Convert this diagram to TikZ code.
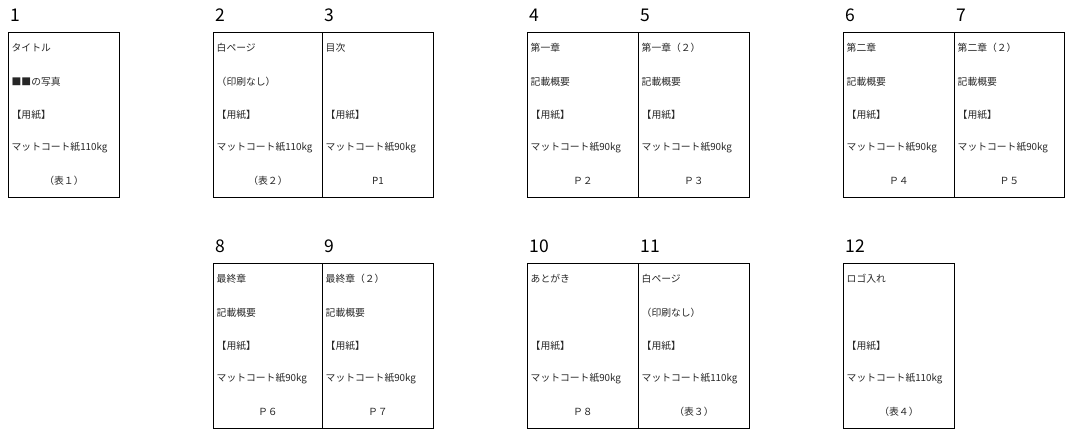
\documentclass[tikz,border=0pt]{standalone}
\usepackage{fontspec}
\setmainfont{Noto Sans CJK JP}
\begin{document}
\begin{tikzpicture}[x=1pt,y=-1pt,
  pagebox/.style={draw=black,line width=0.9pt,minimum height=165pt,inner sep=0pt,anchor=north west},
  txt/.style={inner sep=0pt,font=\fontsize{9.8}{11}\selectfont,text=black!85,anchor=west},
  ctxt/.style={inner sep=0pt,font=\fontsize{9.8}{11}\selectfont,text=black!85,anchor=center},
  num/.style={inner sep=0pt,font=\fontsize{17.5}{20}\selectfont,text=black,anchor=west}]
\useasboundingbox (0,0) rectangle (1080,444);
\newcommand\pagedraw[9]{%
  \node[pagebox,minimum width=#3pt] (p#1) at (#2,#4) {};
  \node[num] (n#1) at ([xshift=2.5pt,yshift=16.5pt]p#1.north west) {#1};
  \if\relax\detokenize{#5}\relax\else\node[txt] (p#1a) at ([xshift=3.5pt,yshift=-16pt]p#1.north west) {#5};\fi
  \if\relax\detokenize{#6}\relax\else\node[txt] (p#1b) at ([xshift=3.5pt,yshift=-49.5pt]p#1.north west) {#6};\fi
  \if\relax\detokenize{#7}\relax\else\node[txt] (p#1c) at ([xshift=3.5pt,yshift=-83pt]p#1.north west) {#7};\fi
  \if\relax\detokenize{#8}\relax\else\node[txt] (p#1d) at ([xshift=3.5pt,yshift=-116pt]p#1.north west) {#8};\fi
  \if\relax\detokenize{#9}\relax\else\node[ctxt] (p#1e) at ([yshift=-149pt]p#1.north) {#9};\fi
}
\pagedraw{1}{8}{111}{32}{タイトル}{■■の写真}{【用紙】}{マットコート紙110kg}{（表１）}
\pagedraw{2}{213}{109}{32}{白ページ}{（印刷なし）}{【用紙】}{マットコート紙110kg}{（表２）}
\pagedraw{3}{322}{111}{32}{目次}{}{【用紙】}{マットコート紙90kg}{P1}
\pagedraw{4}{527}{111}{32}{第一章}{記載概要}{【用紙】}{マットコート紙90kg}{Ｐ２}
\pagedraw{5}{638}{111}{32}{第一章（２）}{記載概要}{【用紙】}{マットコート紙90kg}{Ｐ３}
\pagedraw{6}{843}{111}{32}{第二章}{記載概要}{【用紙】}{マットコート紙90kg}{Ｐ４}
\pagedraw{7}{954}{110}{32}{第二章（２）}{記載概要}{【用紙】}{マットコート紙90kg}{Ｐ５}
\pagedraw{8}{213}{109}{263}{最終章}{記載概要}{【用紙】}{マットコート紙90kg}{Ｐ６}
\pagedraw{9}{322}{111}{263}{最終章（２）}{記載概要}{【用紙】}{マットコート紙90kg}{Ｐ７}
\pagedraw{10}{527}{111}{263}{あとがき}{}{【用紙】}{マットコート紙90kg}{Ｐ８}
\pagedraw{11}{638}{111}{263}{白ページ}{（印刷なし）}{【用紙】}{マットコート紙110kg}{（表３）}
\pagedraw{12}{843}{111}{263}{ロゴ入れ}{}{【用紙】}{マットコート紙110kg}{（表４）}
\end{tikzpicture}
\end{document}
